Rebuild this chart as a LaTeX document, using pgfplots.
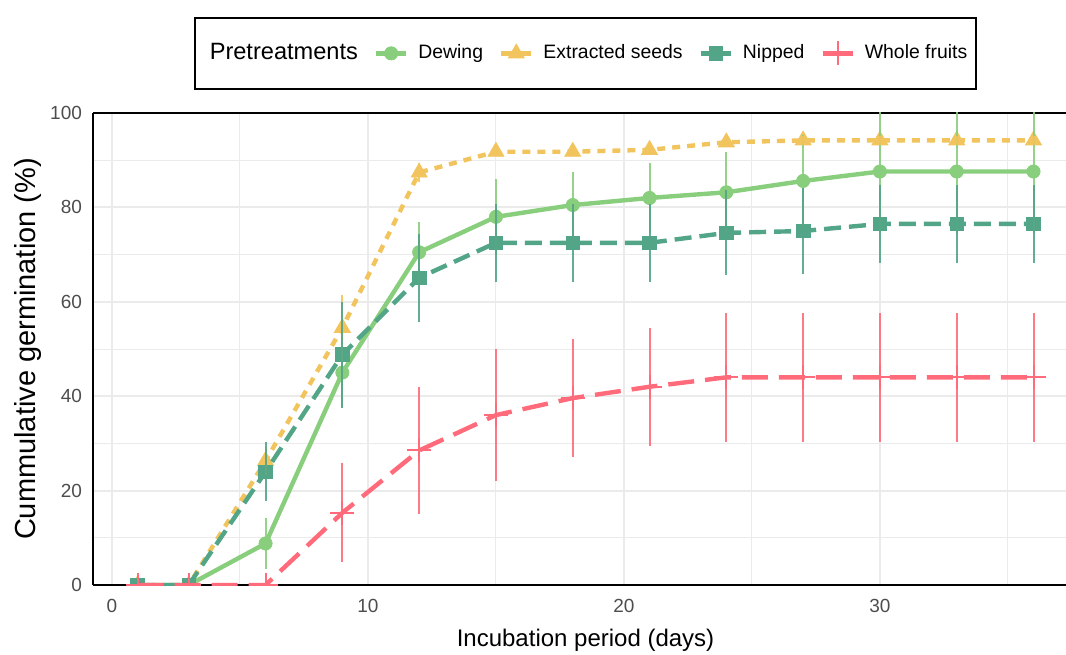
\documentclass[border=0pt]{standalone}
\usepackage{fontspec}
\setmainfont{Liberation Sans}
\usepackage{pgfplots}
\usepackage{pgfplotstable}
\pgfplotsset{compat=1.18}
\definecolor{cDew}{HTML}{88CE7C}
\definecolor{cExt}{HTML}{F2C45E}
\definecolor{cNip}{HTML}{52A586}
\definecolor{cWho}{HTML}{FF6B7A}
\definecolor{gridc}{HTML}{EBEBEB}
\definecolor{tickc}{HTML}{4D4D4D}

\pgfplotstableread{
x y e
1 0 0
3 0 0
6 8.8 5.4
9 45 7.3
12 70.5 6.5
15 78 8
18 80.5 7
21 82 7.5
24 83.2 8.5
27 85.6 9.8
30 87.6 13
33 87.6 13
36 87.6 13
}\dew
\pgfplotstableread{
x y e
1 0 0
3 0 0
6 26.3 3
9 54.5 7
12 87.4 2
15 91.8 1
18 91.8 1
21 92.2 1
24 93.8 1
27 94.2 1
30 94.2 1
33 94.2 1
36 94.2 1
}\ext
\pgfplotstableread{
x y e
1 0 0
3 0 0
6 24 6.3
9 48.8 11.2
12 65.1 9.3
15 72.5 8.3
18 72.5 8.3
21 72.5 8.3
24 74.6 9
27 75 9.2
30 76.5 8.2
33 76.5 8.2
36 76.5 8.2
}\nip
\pgfplotstableread{
x y e
1 0 0
3 0 0
6 0 0
9 15.3 10.5
12 28.5 13.5
15 36 14
18 39.6 12.5
21 42 12.5
24 44 13.7
27 44 13.7
30 44 13.7
33 44 13.7
36 44 13.7
}\who

\begin{document}
\begin{tikzpicture}
\begin{axis}[
  name=ax,
  scale only axis, width=486.5pt, height=236pt,
  xmin=-0.742, xmax=37.27, ymin=0, ymax=100,
  xtick={0,10,20,30}, ytick={0,20,40,60,80,100},
  minor xtick={5,15,25,35}, minor ytick={10,30,50,70,90},
  grid=both,
  major grid style={draw=gridc, line width=1pt},
  minor grid style={draw=gridc, line width=0.5pt},
  major tick length=0pt, minor tick length=0pt,
  axis x line*=box, axis y line*=left,
  x axis line style={black, line width=1.3pt, -},
  y axis line style={black, line width=1pt, -},
  clip marker paths=true,
  /pgf/number format/assume math mode=true,
  xticklabel style={font=\fontsize{9.5}{11}\selectfont, text=tickc, yshift=-3.5pt},
  yticklabel style={font=\fontsize{9.5}{11}\selectfont, text=tickc, xshift=-2pt},
  xlabel={Incubation period (days)},
  ylabel={Cummulative germination (\%)},
  xlabel style={at={(axis description cs:0.5062,0)}, anchor=center, yshift=-27.5pt, font=\fontsize{12}{14}\selectfont},
  ylabel style={at={(axis description cs:-0.0673,0.5)}, anchor=center, font=\fontsize{14.5}{17}\selectfont},
  legend columns=-1,
  legend cell align=left,
  legend style={at={(axis description cs:0.5062,1)}, anchor=south, yshift=11.5pt,
    draw=black, line width=1pt, fill=white,
    font=\fontsize{9.7}{11}\selectfont,
    inner xsep=2.5pt, inner ysep=11pt,
    /tikz/every odd column/.append style={column sep=3pt},
    /tikz/every even column/.append style={column sep=6pt}},
  legend image code/.code={
    \draw[mark repeat=2,mark phase=2,#1, solid] plot coordinates {(0pt,0pt) (7.5pt,0pt) (15pt,0pt)};
  },
]
\addlegendimage{empty legend}
\addlegendentry{\fontsize{11.8}{14}\selectfont Pretreatments}

\addplot[cDew, line width=2.2pt, solid, mark=*, mark size=3.3pt,
  mark options={solid, fill=cDew, draw=cDew, line width=0.4pt}]
  table[x=x,y=y]{\dew};
\addlegendentry{Dewing}
\addplot[cExt, line width=2.2pt, dash pattern=on 4pt off 3.5pt, mark=triangle*, mark size=4.6pt,
  mark options={solid, fill=cExt, draw=cExt, line width=0.4pt}]
  table[x=x,y=y]{\ext};
\addlegendentry{Extracted seeds}
\addplot[cNip, line width=2.2pt, dash pattern=on 8.5pt off 4pt, mark=square*, mark size=3.4pt,
  mark options={solid, fill=cNip, draw=cNip, line width=0.4pt}]
  table[x=x,y=y]{\nip};
\addlegendentry{Nipped}
\addplot[cWho, line width=2.2pt, dash pattern=on 13pt off 5.5pt, mark=+, mark size=6pt,
  mark options={solid, draw=cWho, line width=1pt}]
  table[x=x,y=y]{\who};
\addlegendentry{Whole fruits}

\addplot[forget plot, draw=none, mark=none, error bars/.cd, y dir=both, y explicit, error mark=none,
  error bar style={draw=cDew, line width=1pt, solid, opacity=0.9}]
  table[x=x,y=y,y error=e]{\dew};
\addplot[forget plot, draw=none, mark=none, error bars/.cd, y dir=both, y explicit, error mark=none,
  error bar style={draw=cExt, line width=1pt, solid, opacity=0.9}]
  table[x=x,y=y,y error=e]{\ext};
\addplot[forget plot, draw=none, mark=none, error bars/.cd, y dir=both, y explicit, error mark=none,
  error bar style={draw=cNip, line width=1pt, solid, opacity=0.9}]
  table[x=x,y=y,y error=e]{\nip};
\addplot[forget plot, draw=none, mark=none, error bars/.cd, y dir=both, y explicit, error mark=none,
  error bar style={draw=cWho, line width=1pt, solid, opacity=0.9}]
  table[x=x,y=y,y error=e]{\who};
\end{axis}
\pgfresetboundingbox
\path ([shift={(-46.5pt,-34.5pt)}]ax.south west) rectangle ([shift={(0pt,56.5pt)}]ax.north east);
\end{tikzpicture}
\end{document}
